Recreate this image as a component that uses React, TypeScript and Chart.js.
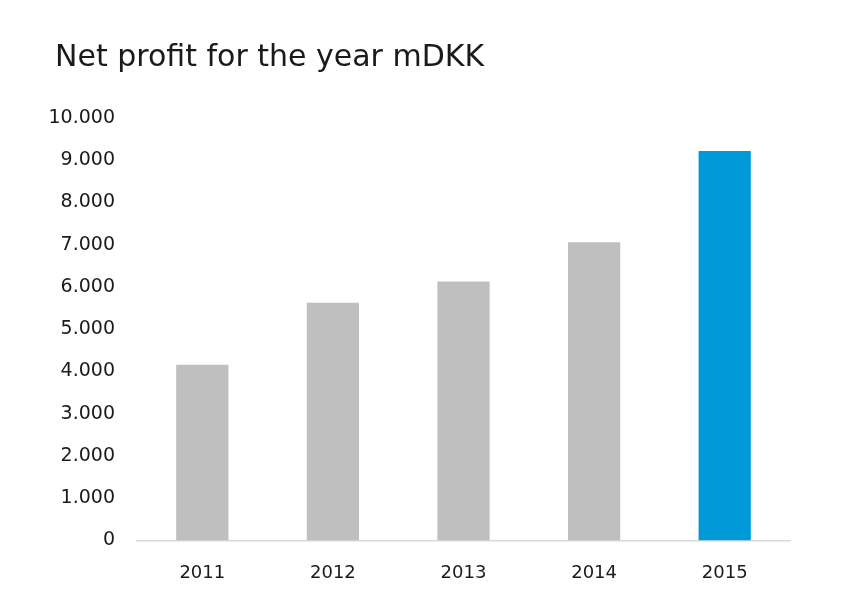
import React, { useEffect, useRef } from "react";
import { Chart, registerables } from "chart.js";

Chart.register(...registerables);

const categories = ["2011", "2012", "2013", "2014", "2015"];
const netProfit = [4160, 5630, 6130, 7060, 9220];
const barColors = ["#bfbfbf", "#bfbfbf", "#bfbfbf", "#bfbfbf", "#009ad9"];
const titleText = "Net profit for the year mDKK";

function formatThousands(v: number): string {
  const s = Math.round(v).toString();
  return s.replace(/\B(?=(\d{3})+(?!\d))/g, ".");
}

const FONT = "DejaVu Sans";

const titlePlugin = {
  id: "leftTitle",
  afterDraw(chart: any) {
    const ctx = chart.ctx;
    ctx.save();
    ctx.font = `normal 30px "${FONT}"`;
    ctx.fillStyle = "#1a1a1a";
    ctx.textAlign = "left";
    ctx.textBaseline = "middle";
    ctx.fillText(titleText, 47, 50);
    ctx.restore();
  },
};

export default function App() {
  const ref = useRef<HTMLCanvasElement | null>(null);
  useEffect(() => {
    if (!ref.current) return;
    const chart = new Chart(ref.current, {
      type: "bar",
      data: {
        labels: categories,
        datasets: [
          {
            data: netProfit,
            backgroundColor: barColors,
            borderWidth: 0,
            barPercentage: 0.4,
            categoryPercentage: 1,
          },
        ],
      },
      plugins: [titlePlugin],
      options: {
        animation: false,
        responsive: true,
        maintainAspectRatio: false,
        layout: { padding: { left: 40, right: 50, top: 110, bottom: 12 } },
        plugins: {
          legend: { display: false },
          tooltip: { enabled: false },
          title: { display: false },
        },
        scales: {
          x: {
            afterFit: (scale: any) => {
              scale.height = 43.5;
            },
            grid: { display: false, drawTicks: false },
            border: { display: true, color: "#d9d9d9", width: 1.5 },
            ticks: {
              color: "#1a1a1a",
              font: { family: FONT, size: 18, lineHeight: 1.2 },
              padding: 22,
            },
          },
          y: {
            min: 0,
            max: 10000,
            afterFit: (scale: any) => {
              scale.width = 89;
            },
            grid: { display: false, drawTicks: false },
            border: { display: false },
            ticks: {
              stepSize: 1000,
              color: "#1a1a1a",
              font: { family: FONT, size: 19 },
              padding: 22,
              callback: (v: any) => formatThousands(Number(v)),
            },
          },
        },
      },
    });
    return () => chart.destroy();
  }, []);
  return (
    <div style={{ width: 832, height: 588, position: "relative" }}>
      <canvas ref={ref} />
    </div>
  );
}
